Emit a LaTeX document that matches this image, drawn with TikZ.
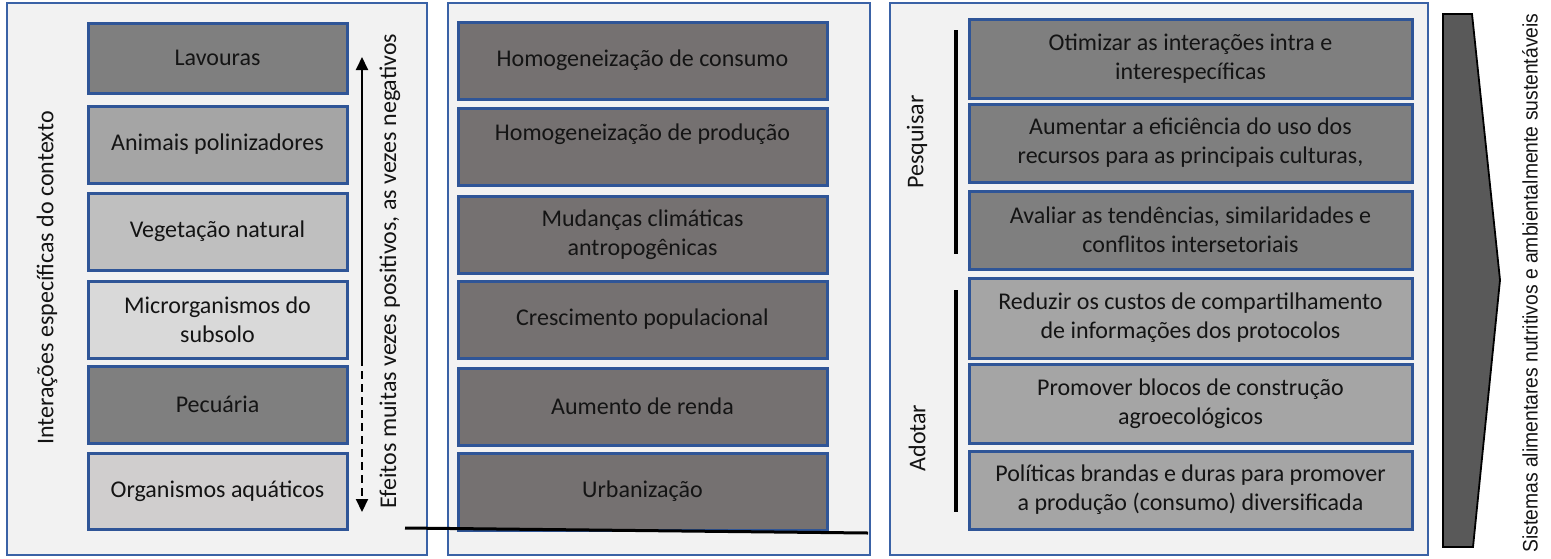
\documentclass[tikz,border=0pt]{standalone}
\usepackage{fontspec}
\setmainfont{Carlito}
\newfontfamily\arialf{Liberation Sans}
\usetikzlibrary{arrows.meta}
\definecolor{bordblue}{HTML}{2F5597}
\definecolor{panelblue}{HTML}{3A62A6}
\definecolor{panelbg}{HTML}{F2F2F2}
\definecolor{gA}{HTML}{7F7F7F}
\definecolor{gB}{HTML}{A5A5A5}
\definecolor{gC}{HTML}{BFBFBF}
\definecolor{gD}{HTML}{D9D9D9}
\definecolor{gE}{HTML}{D0CECE}
\definecolor{gM}{HTML}{757171}
\definecolor{gS}{HTML}{595959}
\definecolor{txt}{HTML}{141414}
\begin{document}
\begin{tikzpicture}[x=0.5pt,y=-0.5pt,
  panel/.style={draw=panelblue, line width=1pt, fill=panelbg, inner sep=0pt},
  box/.style={draw=bordblue, line width=1.5pt, align=center, inner sep=0pt, text=txt,
    font=\fontsize{12}{14.5}\selectfont},
  c1/.style={box, minimum width=129.5pt},
  c2/.style={box, minimum width=184.5pt},
  c3/.style={box, minimum width=221.5pt},
  vlabel/.style={rotate=90, text=txt, font=\fontsize{12}{14.5}\selectfont, inner sep=0pt},
  bar/.style={line width=2pt, black},
  tri/.style={-{Triangle[width=6pt,length=6.5pt]}}
]
\useasboundingbox (0,0) rectangle (1551,558);

% panels
\node[panel, minimum width=210pt, minimum height=276pt] (p1) at (217,279) {};
\node[panel, minimum width=211pt, minimum height=276pt] (p2) at (659,279) {};
\node[panel, minimum width=269pt, minimum height=276pt] (p3) at (1159,279) {};

% panel 1
\node[c1, fill=gA, minimum height=35pt] (lav) at (217.5,58) {Lavouras};
\node[c1, fill=gB, minimum height=38.5pt] (ani) at (217.5,144.5) {Animais polinizadores};
\node[c1, fill=gC, minimum height=38.5pt] (veg) at (217.5,231.5) {Vegetação natural};
\node[c1, fill=gD, minimum height=38.5pt] (mic) at (217.5,319.5) {Microrganismos do\\subsolo};
\node[c1, fill=gA, minimum height=38.5pt] (pec) at (217.5,404.5) {Pecuária};
\node[c1, fill=gE, minimum height=38pt] (org) at (217.5,491) {Organismos aquáticos};

\node[vlabel] (lbl1) at (47,278) {Interações específicas do contexto};
\node[vlabel] (lbl2) at (390,271) {Efeitos muitas vezes positivos, as vezes negativos};

\coordinate (atop) at (362,57);
\coordinate (amid) at (362,358);
\coordinate (abot) at (362,512);
\draw[line width=1pt, tri] (amid) -- (atop);
\draw[line width=1pt, dash pattern=on 4pt off 2.5pt, tri] (amid) -- (abot);

% panel 2
\node[c2, fill=gM, minimum height=38.5pt] (hc) at (642.5,60.5) {Homogeneização de consumo};
\node[c2, fill=gM, minimum height=38.5pt] (hp) at (642.5,146.5) {Homogeneização de produção\\\mbox{}};
\node[c2, fill=gM, minimum height=38.5pt] (mc) at (642.5,234.5) {Mudanças climáticas\\antropogênicas};
\node[c2, fill=gM, minimum height=38.5pt] (cp) at (642.5,319.5) {Crescimento populacional};
\node[c2, fill=gM, minimum height=38.5pt] (ar) at (642.5,406.5) {Aumento de renda};
\node[c2, fill=gM, minimum height=38.5pt] (ur) at (642.5,491.5) {Urbanização};

\coordinate (la) at (405,528);
\coordinate (lb) at (868,533);
\draw[line width=1.5pt, black] (la) -- (lb);

% panel 3
\node[c3, fill=gA, minimum height=39.5pt] (r1) at (1190.5,58.5) {Otimizar as interações intra e\\interespecíficas};
\node[c3, fill=gA, minimum height=39pt] (r2) at (1190.5,143) {Aumentar a eficiência do uso dos\\recursos para as principais culturas,};
\node[c3, fill=gA, minimum height=39pt] (r3) at (1190.5,230) {Avaliar as tendências, similaridades e\\conflitos intersetoriais};
\node[c3, fill=gB, minimum height=40pt] (r4) at (1190.5,318) {Reduzir os custos de compartilhamento\\de informações dos protocolos};
\node[c3, fill=gB, minimum height=39.5pt] (r5) at (1190.5,403.5) {Promover blocos de construção\\agroecológicos};
\node[c3, fill=gB, minimum height=39pt] (r6) at (1190.5,490) {Políticas brandas e duras para promover\\a produção (consumo) diversificada};

\coordinate (pa) at (956,30);
\coordinate (pb) at (956,254);
\coordinate (aa) at (956,290);
\coordinate (ab) at (956,512);
\draw[bar] (pa) -- (pb);
\draw[bar] (aa) -- (ab);
\node[vlabel] (pesq) at (917,142) {Pesquisar};
\node[vlabel] (adot) at (917,438) {Adotar};

% chevron
\coordinate (s1) at (1443,14);
\coordinate (s2) at (1472,14);
\coordinate (s3) at (1500,280);
\coordinate (s4) at (1473,547);
\coordinate (s5) at (1443,547);
\draw[fill=gS, line width=0.9pt, line join=miter] (s1) -- (s2) -- (s3) -- (s4) -- (s5) -- cycle;
\node[rotate=90, inner sep=0pt, font=\arialf\fontsize{10.5}{12}\selectfont, text=txt] (sys) at (1530,283) {\scalebox{0.92}[1]{Sistemas alimentares nutritivos e ambientalmente sustentáveis}};
\end{tikzpicture}
\end{document}
